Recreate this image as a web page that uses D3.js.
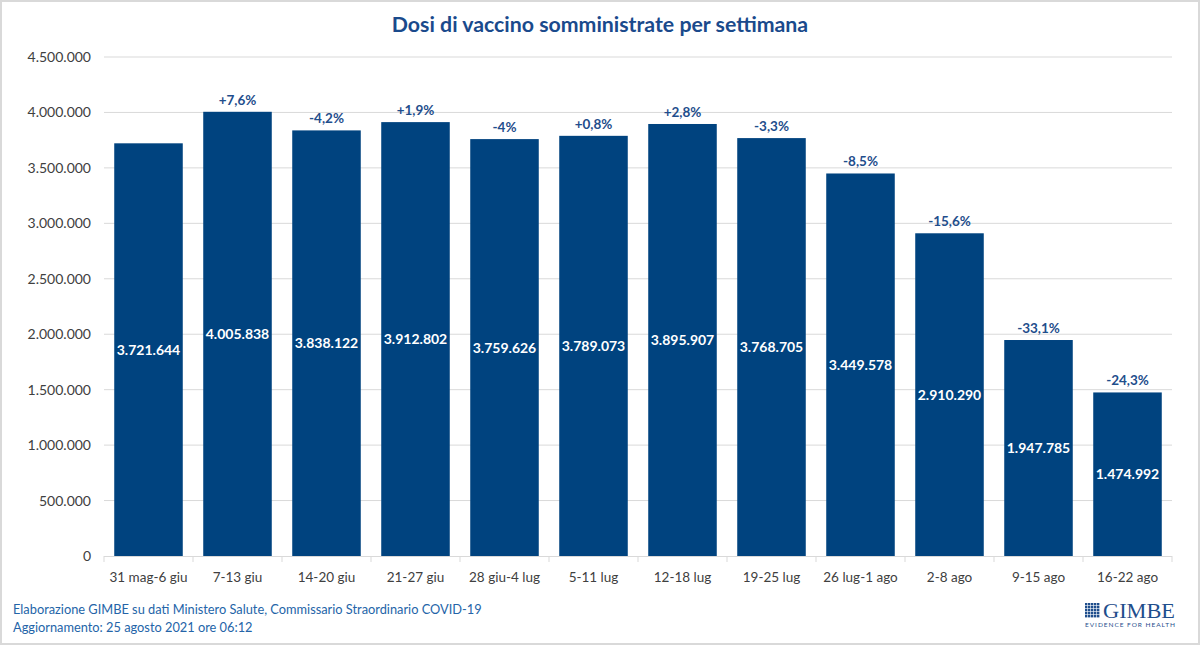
<!DOCTYPE html>
<html><head><meta charset="utf-8">
<script src="https://cdn.jsdelivr.net/npm/d3@7"></script>
<style>
body{margin:0;background:#fff;}
svg{display:block;font-family:Lato,"Open Sans",sans-serif;}
</style></head>
<body>
<svg id="c" width="1200" height="645"></svg>
<script>
const categories = ["31 mag-6 giu","7-13 giu","14-20 giu","21-27 giu","28 giu-4 lug","5-11 lug","12-18 lug","19-25 lug","26 lug-1 ago","2-8 ago","9-15 ago","16-22 ago"];
const doses = [3721644,4005838,3838122,3912802,3759626,3789073,3895907,3768705,3449578,2910290,1947785,1474992];
const changes = ["","+7,6%","-4,2%","+1,9%","-4%","+0,8%","+2,8%","-3,3%","-8,5%","-15,6%","-33,1%","-24,3%"];
const yTicks = [0,500000,1000000,1500000,2000000,2500000,3000000,3500000,4000000,4500000];

const svg = d3.select("#c");
const W=1200,H=645;
const m={left:104,right:1172,top:57,bottom:556};
const fmt = v => d3.format(",")(v).replace(/,/g,".");

// frame
svg.append("rect").attr("x",1).attr("y",1).attr("width",W-2).attr("height",H-2)
  .attr("fill","#fff").attr("stroke","#d9d9d9").attr("stroke-width",2);

const x = d3.scaleBand().domain(categories).range([m.left,m.right]).paddingInner(0.23).paddingOuter(0.115);
const y = d3.scaleLinear().domain([0,4500000]).range([m.bottom,m.top]);

// gridlines
svg.append("g").selectAll("line").data(yTicks.slice(1)).join("line")
  .attr("x1",m.left).attr("x2",m.right).attr("y1",d=>y(d)).attr("y2",d=>y(d))
  .attr("stroke","#d9d9d9").attr("stroke-width",1);

// y axis labels
const ya = svg.append("g").attr("transform",`translate(${m.left},0)`)
  .call(d3.axisLeft(y).tickValues(yTicks).tickFormat(fmt).tickSize(0).tickPadding(13));
ya.select(".domain").remove();
ya.selectAll("text").attr("font-size",14).attr("fill","#404040").attr("font-family","Lato,sans-serif");

// bars
svg.append("g").selectAll("rect").data(doses).join("rect")
  .attr("x",(d,i)=>x(categories[i])).attr("width",x.bandwidth())
  .attr("y",d=>y(d)).attr("height",d=>y(0)-y(d)).attr("fill","#00437F");

// value labels
svg.append("g").selectAll("text").data(doses).join("text")
  .attr("x",(d,i)=>x(categories[i])+x.bandwidth()/2)
  .attr("y",d=>(y(d)+y(0))/2+5)
  .attr("text-anchor","middle").attr("fill","#fff").attr("font-weight","bold").attr("font-size",14)
  .text(d=>fmt(d));

// change labels
svg.append("g").selectAll("text").data(changes).join("text")
  .attr("x",(d,i)=>x(categories[i])+x.bandwidth()/2)
  .attr("y",(d,i)=>y(doses[i])-7)
  .attr("text-anchor","middle").attr("fill","#1F4E8C").attr("font-weight","bold").attr("font-size",13.5)
  .text(d=>d);

// x axis
const bounds = d3.range(categories.length+1).map(i=>m.left+i*(m.right-m.left)/categories.length);
svg.append("line").attr("x1",m.left).attr("x2",m.right).attr("y1",m.bottom+0.5).attr("y2",m.bottom+0.5).attr("stroke","#d9d9d9");
svg.append("g").selectAll("line").data(bounds).join("line")
  .attr("x1",d=>d).attr("x2",d=>d).attr("y1",m.bottom).attr("y2",m.bottom+6).attr("stroke","#d9d9d9");
const xa = svg.append("g").attr("transform",`translate(0,${m.bottom})`)
  .call(d3.axisBottom(x).tickSize(0).tickPadding(16));
xa.select(".domain").remove();
xa.selectAll("text").attr("font-size",13.5).attr("fill","#404040").attr("font-family","Lato,sans-serif");

// title
svg.append("text").attr("x",600).attr("y",32).attr("text-anchor","middle")
  .attr("font-size",21.3).attr("font-weight","bold").attr("fill","#1A4A8C")
  .text("Dosi di vaccino somministrate per settimana");

// footer
svg.append("text").attr("x",13).attr("y",614).attr("font-size",12.8).attr("fill","#2464A8")
  .text("Elaborazione GIMBE su dati Ministero Salute, Commissario Straordinario COVID-19");
svg.append("text").attr("x",13).attr("y",632).attr("font-size",12.8).attr("fill","#2464A8")
  .text("Aggiornamento: 25 agosto 2021 ore 06:12");

// logo
const lg = svg.append("g").attr("transform","translate(1085,603)");
for(let r=0;r<5;r++)for(let c=0;c<5;c++)
  lg.append("rect").attr("x",c*3).attr("y",r*3).attr("width",2.4).attr("height",2.4).attr("fill","#1F4E8C");
lg.append("text").attr("x",18).attr("y",15).attr("font-family","'Liberation Serif',serif").attr("font-size",21)
  .attr("fill","#1F4E8C").attr("textLength",72).attr("lengthAdjust","spacingAndGlyphs").text("GIMBE");
lg.append("text").attr("x",0).attr("y",24).attr("font-size",6.5).attr("fill","#1F4E8C")
  .attr("textLength",90).text("EVIDENCE FOR HEALTH");
</script>
</body></html>
